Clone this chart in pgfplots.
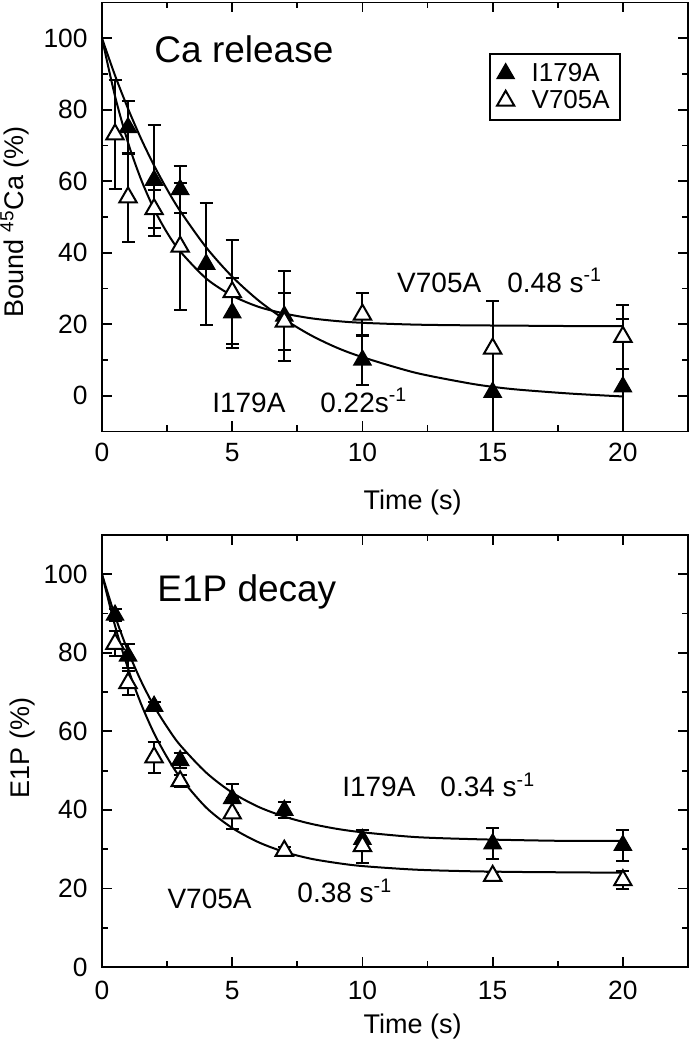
\documentclass[border=0pt]{standalone}
\usepackage{fontspec}
\setmainfont{Liberation Sans}
\usepackage{pgfplots}
\usepackage{pgfplotstable}
\pgfplotsset{compat=1.18}

\pgfplotstableread{
t y e
1 75.0 7.5
2 60.3 15.5
3 57.7 6.5
4 36.8 17.0
5 23.2 9.8
7 22.3 12.5
10 10.0 7.0
15 1.0 12.0
20 2.5 19.0
}\caIfill
\pgfplotstableread{
t y e
0.5 73.1 15.2
1 55.5 12.4
2 52.2 5.3
3 41.7 17.7
5 29.0 14.5
7 20.7 8.0
10 22.7 6.0
15 13.2 13.3
20 16.5 9.0
}\caVopen
\pgfplotstableread{
t y e
0.5 89.6 1.5
1 79.2 3.0
2 66.4 1.0
3 52.6 2.0
5 42.9 3.8
7 39.9 2.0
10 32.5 2.5
15 31.4 4.0
20 31.0 4.0
}\eIfill
\pgfplotstableread{
t y e
0.5 82.3 3.2
1 72.3 3.0
2 53.4 4.0
3 47.3 1.5
5 39.1 4.0
7 29.6 1.0
10 30.8 4.2
15 23.2 1.0
20 22.1 2.3
}\eVopen

\pgfplotsset{
  common/.style={
    scale only axis, width=293pt,
    xmin=0, xmax=22.5, xtick={0,5,10,15,20}, minor x tick num=1,
    ytick={0,20,40,60,80,100}, minor y tick num=1,
    tick align=inside, major tick length=5pt, minor tick length=3pt,
    axis line style={line width=0.9pt},
    every tick/.style={line width=0.9pt, black},
    tick label style={font=\fontsize{13.2}{15}\selectfont},
    /pgf/number format/assume math mode=true,
    yticklabel style={inner sep=0pt, anchor=east, xshift=-7pt},
    label style={font=\fontsize{13.5}{16}\selectfont, inner sep=0pt},
    xlabel={Time (s)},
  },
  errs/.style={
    error bars/y dir=both, error bars/y explicit,
    error bars/error bar style={line width=1pt, black},
    error bars/error mark options={rotate=90, mark size=3.25pt, line width=1pt, black}},
  filled/.style={only marks, mark=triangle*, mark size=5pt,
    mark options={fill=black, draw=black, line width=0.6pt}, errs, forget plot},
  openm/.style={only marks, mark=triangle*, mark size=5pt,
    mark options={fill=white, draw=black, line width=1pt}, errs, forget plot},
  fitline/.style={smooth, line width=1pt, black, no marks, forget plot},
}

\begin{document}
\begin{tikzpicture}[x=1pt,y=1pt]
\useasboundingbox (0,0) rectangle (347,520);

% ---------- top panel ----------
\begin{axis}[common, at={(51pt,304.25pt)}, anchor=south west,
  height=214.5pt, ymin=-10, ymax=110,
  xticklabel style={inner sep=0pt, anchor=north, yshift=-5.5pt},
  xlabel style={at={(axis description cs:0.53,0)}, anchor=base, yshift=-39.25pt},
  ylabel={Bound \textsuperscript{45}Ca (\%)},
  ylabel style={at={(axis description cs:-0.174,0.488)}, anchor=north},
  legend style={at={(0.66,0.882)}, anchor=north west, draw=black,
    line width=0.9pt, font=\fontsize{13}{15}\selectfont,
    inner xsep=2pt, inner ysep=3pt, row sep=0pt,
    nodes={inner xsep=3pt, inner ysep=1.5pt},
    /tikz/every odd column/.append style={column sep=4pt}},
  legend cell align=left,
  legend image code/.code={\path[draw=none, fill=none] (-6pt,-1pt) rectangle (6pt,1pt); \draw[#1] plot coordinates {(0pt,0pt)};},
]
\addplot[fitline] coordinates {(0,100)(0.5,89.6)(1,80.3)(1.5,71.9)(2,64.4)(2.5,57.7)(3,51.7)(4,41.5)(5,33.3)(6,26.7)(7,21.4)(8,17.0)(9,13.5)(10,10.8)(12,6.5)(14,3.6)(15,2.5)(16,1.7)(18,0.6)(20,-0.2)};
\addplot[fitline] coordinates {(0,100)(0.5,83.8)(1,70.8)(1.5,60.5)(2,52.2)(2.5,45.6)(3,40.4)(4,32.8)(5,28.0)(6,24.9)(7,23.0)(8,21.7)(9,20.9)(10,20.4)(12,19.9)(14,19.7)(16,19.6)(18,19.5)(20,19.5)};
\addplot[filled] table[x=t, y=y, y error=e] {\caIfill};
\addplot[openm] table[x=t, y=y, y error=e] {\caVopen};
\addlegendimage{only marks, mark=triangle*, mark size=5pt, mark options={fill=black, draw=black, line width=0.6pt}}
\addlegendentry{I179A}
\addlegendimage{only marks, mark=triangle*, mark size=5pt, mark options={fill=white, draw=black, line width=1pt}}
\addlegendentry{V705A\hspace{2pt}}
\node[anchor=base west, font=\fontsize{18.5}{20}\selectfont, inner sep=0pt] at (axis cs:2.0,93.1) {Ca release};
\node[anchor=base west, font=\fontsize{14}{16}\selectfont, inner sep=0pt] at (axis cs:11.32,29.0) {V705A};
\node[anchor=base west, font=\fontsize{14}{16}\selectfont, inner sep=0pt] at (axis cs:15.55,29.0) {0.48 s\textsuperscript{-1}};
\node[anchor=base west, font=\fontsize{14}{16}\selectfont, inner sep=0pt] at (axis cs:4.22,-4.6) {I179A};
\node[anchor=base west, font=\fontsize{14}{16}\selectfont, inner sep=0pt] at (axis cs:8.37,-4.6) {0.22s\textsuperscript{-1}};
\end{axis}

% ---------- bottom panel ----------
\begin{axis}[common, at={(51pt,36.5pt)}, anchor=south west,
  height=216pt, ymin=0, ymax=110,
  xticklabel style={inner sep=0pt, anchor=north, yshift=-7pt},
  xlabel style={at={(axis description cs:0.53,0)}, anchor=base, yshift=-33pt},
  ylabel={E1P (\%)},
  ylabel style={at={(axis description cs:-0.157,0.507)}, anchor=north},
]
\addplot[fitline] coordinates {(0,100)(0.5,89.4)(1,80.4)(1.5,72.8)(2,66.4)(2.5,61.1)(3,56.5)(4,49.5)(5,44.4)(6,40.8)(7,38.3)(8,36.5)(9,35.2)(10,34.3)(12,33.1)(14,32.6)(16,32.3)(18,32.1)(20,32.1)};
\addplot[fitline] coordinates {(0,100)(0.5,86.9)(1,76.0)(1.5,67.0)(2,59.5)(2.5,53.4)(3,48.3)(4,40.6)(5,35.4)(6,31.8)(7,29.3)(8,27.6)(9,26.5)(10,25.7)(12,24.8)(14,24.4)(16,24.2)(18,24.1)(20,24.0)};
\addplot[filled] table[x=t, y=y, y error=e] {\eIfill};
\addplot[openm] table[x=t, y=y, y error=e] {\eVopen};
\node[anchor=base west, font=\fontsize{18.5}{20}\selectfont, inner sep=0pt] at (axis cs:2.11,93.0) {E1P decay};
\node[anchor=base west, font=\fontsize{14}{16}\selectfont, inner sep=0pt] at (axis cs:9.21,43.3) {I179A};
\node[anchor=base west, font=\fontsize{14}{16}\selectfont, inner sep=0pt] at (axis cs:12.98,43.3) {0.34 s\textsuperscript{-1}};
\node[anchor=base west, font=\fontsize{14}{16}\selectfont, inner sep=0pt] at (axis cs:2.5,15.0) {V705A};
\node[anchor=base west, font=\fontsize{14}{16}\selectfont, inner sep=0pt] at (axis cs:7.49,16.3) {0.38 s\textsuperscript{-1}};
\end{axis}
\end{tikzpicture}
\end{document}
